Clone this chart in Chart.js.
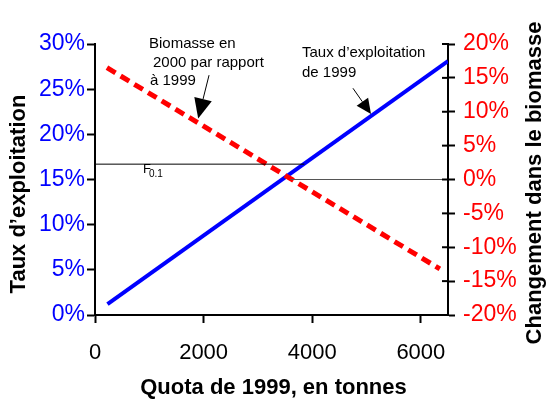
<!DOCTYPE html>
<html>
<head>
<meta charset="utf-8">
<script src="https://cdn.jsdelivr.net/npm/chart.js@4.4.0/dist/chart.umd.min.js"></script>
<style>
  html, body { margin: 0; padding: 0; background: #fff; }
  #wrap { width: 548px; height: 401px; }
</style>
</head>
<body>
<div id="wrap"><canvas id="chart" width="548" height="401"></canvas></div>
<script>
// Quota (tonnes) et taux d'exploitation 1999
const quotaTaux = [230, 6500];
const tauxExploitation = [1.2, 28.1];
// Changement de biomasse 2000 / 1999
const quotaBiomasse = [220, 6350];
const changementBiomasse = [16.5, -13.2];
// Lignes de reference F0.1
const f01Quota = [0, 3855];
const f01Taux = [16.7, 16.7];
const zeroQuota = [3600, 6500];
const zeroChange = [0, 0];
// Graduations
const xTicks = [0, 2000, 4000, 6000];
const leftTicks = [0, 5, 10, 15, 20, 25, 30];
const rightTicks = [-20, -15, -10, -5, 0, 5, 10, 15, 20];

const FONT = "Arial, 'Liberation Sans', sans-serif";
const pts = (xs, ys) => xs.map((x, i) => ({ x: x, y: ys[i] }));

const annotations = {
  id: 'annotations',
  afterDraw(chart) {
    const ctx = chart.ctx;
    const x = chart.scales.x, y = chart.scales.y, y2 = chart.scales.y2;
    const area = chart.chartArea;
    ctx.save();

    // ticks du cote interieur de l'axe droit
    ctx.strokeStyle = '#000';
    ctx.lineWidth = 2;
    rightTicks.forEach(v => {
      const py = y2.getPixelForValue(v);
      ctx.beginPath();
      ctx.moveTo(area.right - 6, py);
      ctx.lineTo(area.right, py);
      ctx.stroke();
    });

    // titres des axes
    ctx.fillStyle = '#000';
    ctx.font = 'bold 22px ' + FONT;
    ctx.textAlign = 'center';
    ctx.textBaseline = 'middle';
    ctx.fillText('Quota de 1999, en tonnes', (area.left + area.right) / 2 + 2, 388);
    ctx.save();
    ctx.translate(19, 194);
    ctx.rotate(-Math.PI / 2);
    ctx.fillText('Taux d\u2019exploitation', 0, 0);
    ctx.restore();
    ctx.save();
    ctx.translate(535, 183);
    ctx.rotate(-Math.PI / 2);
    ctx.fillText('Changement dans le biomasse', 0, 0);
    ctx.restore();

    // textes d'annotation
    ctx.font = '15px ' + FONT;
    ctx.textAlign = 'left';
    ctx.fillText('Biomasse en', 149, 44);
    ctx.fillText('2000 par rapport', 153, 63);
    ctx.fillText('\u00e0 1999', 150, 81);
    ctx.fillText('Taux d\u2019exploitation', 302, 53);
    ctx.fillText('de 1999', 302, 73);

    // F0.1
    ctx.font = '13px ' + FONT;
    ctx.fillText('F', 143, 169);
    ctx.font = '10px ' + FONT;
    ctx.fillText('0.1', 149, 174);

    // fleches
    const arrow = (x1, y1, x2, y2p, len, half) => {
      const a = Math.atan2(y2p - y1, x2 - x1);
      const bx = x2 - len * Math.cos(a), by = y2p - len * Math.sin(a);
      ctx.lineWidth = 1;
      ctx.beginPath();
      ctx.moveTo(x1, y1);
      ctx.lineTo(bx, by);
      ctx.stroke();
      ctx.beginPath();
      ctx.moveTo(x2, y2p);
      ctx.lineTo(bx + half * Math.sin(a), by - half * Math.cos(a));
      ctx.lineTo(bx - half * Math.sin(a), by + half * Math.cos(a));
      ctx.closePath();
      ctx.fill();
    };
    arrow(x.getPixelForValue(2100), y2.getPixelForValue(15.4),
          x.getPixelForValue(1900), y2.getPixelForValue(9.0), 20, 9);
    arrow(x.getPixelForValue(4750), y.getPixelForValue(25.1),
          x.getPixelForValue(5082), y.getPixelForValue(22.25), 15, 7);

    ctx.restore();
  }
};

new Chart(document.getElementById('chart').getContext('2d'), {
  type: 'scatter',
  data: {
    datasets: [
      {
        data: pts(f01Quota, f01Taux),
        yAxisID: 'y',
        showLine: true,
        borderColor: '#000',
        borderWidth: 1,
        pointRadius: 0
      },
      {
        data: pts(zeroQuota, zeroChange),
        yAxisID: 'y2',
        showLine: true,
        borderColor: '#555',
        borderWidth: 1,
        pointRadius: 0
      },
      {
        label: 'Biomasse en 2000 par rapport \u00e0 1999',
        data: pts(quotaBiomasse, changementBiomasse),
        yAxisID: 'y2',
        showLine: true,
        borderColor: '#ff0000',
        borderWidth: 5,
        borderDash: [10, 6],
        pointRadius: 0
      },
      {
        label: 'Taux d\u2019exploitation de 1999',
        data: pts(quotaTaux, tauxExploitation),
        yAxisID: 'y',
        showLine: true,
        borderColor: '#0000ff',
        borderWidth: 4,
        pointRadius: 0
      }
    ]
  },
  options: {
    responsive: false,
    animation: false,
    layout: { padding: { top: 44, left: 0, right: 0, bottom: 0 } },
    plugins: { legend: { display: false }, tooltip: { enabled: false } },
    scales: {
      x: {
        type: 'linear',
        min: 0,
        max: 6500,
        afterBuildTicks: s => { s.ticks = xTicks.map(v => ({ value: v })); },
        afterFit: s => { s.height = 86; },
        border: { display: true, color: '#000', width: 2 },
        grid: { drawOnChartArea: false, color: '#000', tickLength: 8, tickWidth: 2 },
        ticks: { color: '#000', font: { family: FONT, size: 22 }, padding: 17, maxRotation: 0, callback: v => String(v) }
      },
      y: {
        position: 'left',
        min: 0,
        max: 30,
        afterBuildTicks: s => { s.ticks = leftTicks.map(v => ({ value: v })); },
        afterFit: s => { s.width = 95; },
        border: { display: true, color: '#000', width: 2 },
        grid: { drawOnChartArea: false, color: '#000', tickLength: 8, tickWidth: 2 },
        ticks: { color: '#0000ff', font: { family: FONT, size: 23 }, padding: 2, callback: v => v + '%' }
      },
      y2: {
        position: 'right',
        min: -20,
        max: 20,
        afterBuildTicks: s => { s.ticks = rightTicks.map(v => ({ value: v })); },
        afterFit: s => { s.width = 100; },
        border: { display: true, color: '#000', width: 2 },
        grid: { drawOnChartArea: false, color: '#000', tickLength: 7, tickWidth: 2 },
        ticks: { color: '#ff0000', font: { family: FONT, size: 23 }, padding: 8, callback: v => v + '%' }
      }
    }
  },
  plugins: [annotations]
});
</script>
</body>
</html>
